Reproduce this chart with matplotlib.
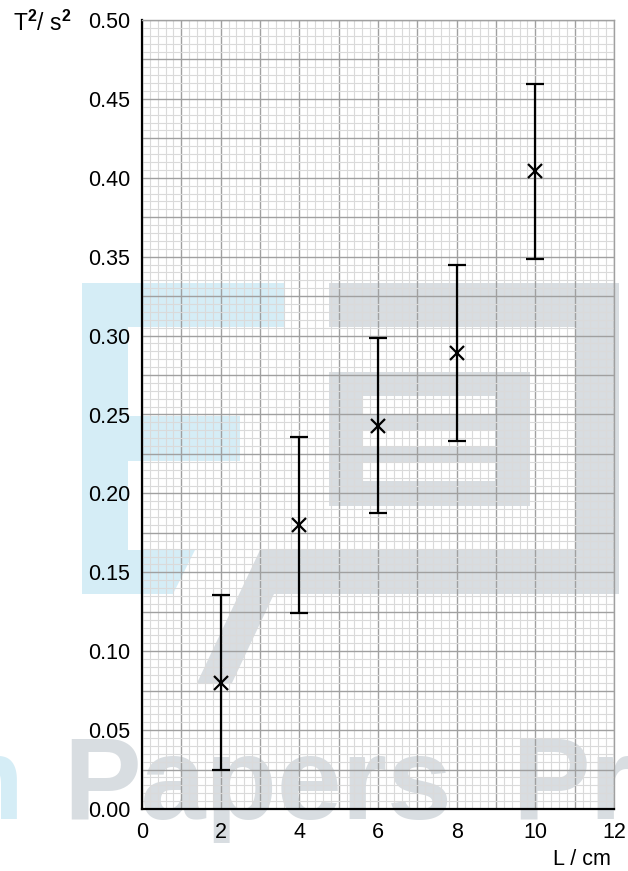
import numpy as np
import matplotlib
matplotlib.use('Agg')
import matplotlib.pyplot as plt
from matplotlib.patches import Rectangle, Polygon
from matplotlib.ticker import MultipleLocator, FuncFormatter

plt.rcParams['font.family'] = ['Liberation Sans', 'DejaVu Sans']
plt.rcParams['mathtext.fontset'] = 'custom'
plt.rcParams['mathtext.rm'] = 'Liberation Sans'
plt.rcParams['mathtext.bf'] = 'Liberation Sans:bold'

# ----- datos -----
L_cm = [2, 4, 6, 8, 10]
T2 = [0.080, 0.180, 0.243, 0.289, 0.404]
T2_err = [0.0555, 0.0555, 0.0555, 0.0555, 0.0555]

x_lim = (0, 12)
y_lim = (0, 0.50)

W, H = 628, 871
fig = plt.figure(figsize=(W / 100, H / 100), dpi=100)

# ----- marca de agua de fondo (coordenadas en pixeles) -----
bg = fig.add_axes([0, 0, 1, 1], zorder=0)
bg.set_xlim(0, W)
bg.set_ylim(H, 0)
bg.axis('off')

azul = '#d5edf6'
gris = '#d8dde1'

for (x0, y0, x1, y1) in [(82, 283, 128, 594), (82, 283, 285, 327), (82, 416, 240, 461)]:
    bg.add_patch(Rectangle((x0, y0), x1 - x0, y1 - y0, color=azul, lw=0))
bg.add_patch(Polygon([(82, 550), (195, 550), (173, 594), (82, 594)], color=azul, lw=0))

for (x0, y0, x1, y1) in [(329, 283, 619, 327), (575, 283, 619, 594), (329, 372, 530, 506)]:
    bg.add_patch(Rectangle((x0, y0), x1 - x0, y1 - y0, color=gris, lw=0))
bg.add_patch(Polygon([(260, 550), (619, 550), (619, 594), (274, 594),
                      (232, 683), (197, 683)], color=gris, lw=0))
for (y0, y1) in [(396, 414), (431, 447), (463, 481)]:
    bg.add_patch(Rectangle((363, y0), 495 - 363, y1 - y0, color='white', lw=0))

bg.text(24, 819, 'Exam', color=azul, fontsize=84, fontweight='bold', ha='right', va='baseline')
bg.text(63, 819, 'Papers', color=gris, fontsize=84, fontweight='bold', ha='left', va='baseline')
bg.text(512, 819, 'Practice', color=gris, fontsize=84, fontweight='bold', ha='left', va='baseline')

# ----- grafico -----
ax = fig.add_axes([142 / W, (H - 809) / H, (614 - 142) / W, (809 - 20) / H], zorder=1)
ax.set_facecolor('none')

ax.errorbar(L_cm, T2, yerr=T2_err, fmt='x', color='black', ms=10, mew=1.6,
            elinewidth=1.6, capsize=6.5, capthick=1.6, zorder=5)

ax.set_xlim(*x_lim)
ax.set_ylim(*y_lim)

ax.xaxis.set_major_locator(MultipleLocator(1))
ax.xaxis.set_minor_locator(MultipleLocator(0.2))
ax.yaxis.set_major_locator(MultipleLocator(0.025))
ax.yaxis.set_minor_locator(MultipleLocator(0.005))

ax.xaxis.set_major_formatter(FuncFormatter(lambda v, p: '%d' % round(v) if round(v) % 2 == 0 else ''))
ax.yaxis.set_major_formatter(FuncFormatter(lambda v, p: '%.2f' % v if round(v / 0.025) % 2 == 0 else ''))

ax.grid(which='major', color='#a0a0a0', lw=1.0)
ax.grid(which='minor', color='#dadada', lw=0.8)
ax.set_axisbelow(True)

ax.tick_params(which='both', length=0, labelsize=15.5)
ax.tick_params(axis='x', pad=9)
ax.tick_params(axis='y', pad=8.5)

ax.spines['left'].set_linewidth(1.6)
ax.spines['bottom'].set_linewidth(1.6)
for s in ['top', 'right']:
    ax.spines[s].set_color('#a0a0a0')
    ax.spines[s].set_linewidth(1.0)

fig.text(13 / W, 1 - 31 / H, r'T$^{\mathbf{2}}$/ s$^{\mathbf{2}}$', fontsize=16.5,
         ha='left', va='baseline')
fig.text(611 / W, 1 - 865 / H, 'L / cm', fontsize=15.5, ha='right', va='baseline')

plt.savefig('out.png', dpi=100)
